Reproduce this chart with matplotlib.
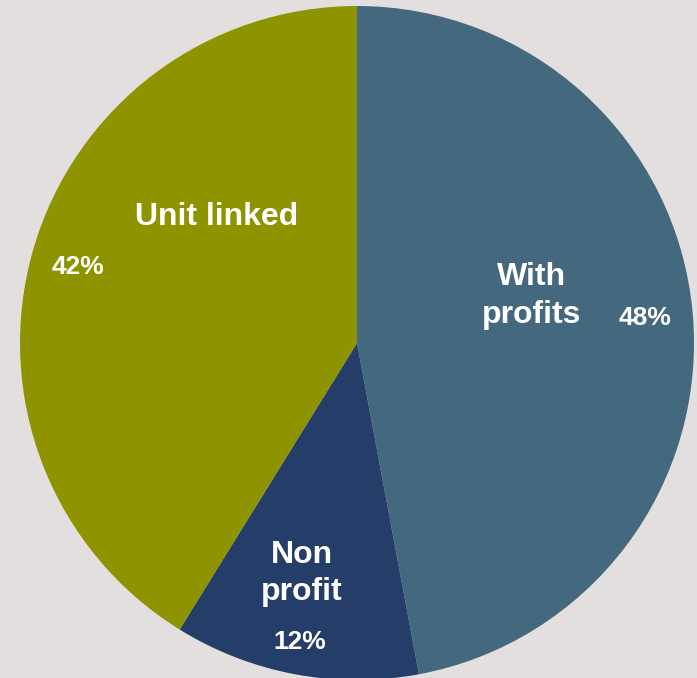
import numpy as np
import matplotlib
matplotlib.use("Agg")
from matplotlib import pyplot as plt

# Share of business by fund type (%)
categories = ["With\nprofits", "Non\nprofit", "Unit linked"]
shares = [48, 12, 42]
pct_labels = [f"{v}%" for v in shares]

colors = ["#44687D", "#253E69", "#8E9400"]
background = "#E3DFDE"

plt.rcParams["font.family"] = ["Liberation Sans", "DejaVu Sans"]

W, H = 697, 678
fig = plt.figure(figsize=(W / 100, H / 100), dpi=100, facecolor=background)
ax = fig.add_axes([0, 0, 1, 1])
ax.set_facecolor(background)

center = (357, 335)
radius = 337

wedges, _ = ax.pie(
    shares,
    colors=colors,
    startangle=90,
    counterclock=False,
    center=center,
    radius=radius,
    wedgeprops=dict(linewidth=0),
)
ax.set_xlim(0, W)
ax.set_ylim(0, H)
ax.set_aspect("equal")
ax.axis("off")

# label placement: (angle clockwise from 12 o'clock, distance from centre in px)
name_pos = [(75.0, 181), (193.5, 237), (312.0, 189)]
pct_pos = [(85.0, 289), (190.8, 304), (285.2, 289)]


def polar(angle, r):
    a = np.deg2rad(angle)
    return center[0] + r * np.sin(a), center[1] + r * np.cos(a)


for name, (ang, r) in zip(categories, name_pos):
    x, y = polar(ang, r)
    ax.text(x, y, name, ha="center", va="center", color="white",
            fontsize=23, fontweight="bold", linespacing=1.32)

for pct, (ang, r) in zip(pct_labels, pct_pos):
    x, y = polar(ang, r)
    ax.text(x, y, pct, ha="center", va="center", color="white",
            fontsize=19, fontweight="bold")

plt.savefig("out.png", dpi=100, facecolor=background)
plt.close()
